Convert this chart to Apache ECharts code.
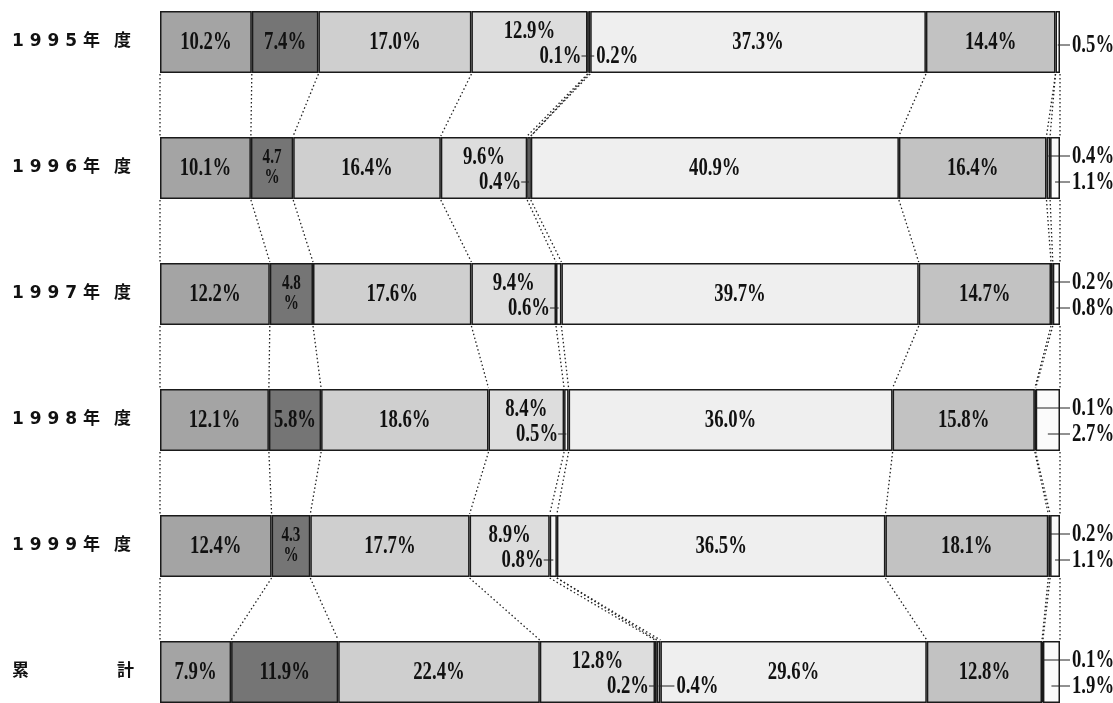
<!DOCTYPE html>
<html>
<head>
<meta charset="utf-8">
<script src="https://cdn.jsdelivr.net/npm/echarts@6/dist/echarts.min.js"></script>
<style>
  html, body { margin: 0; padding: 0; background: #fff; }
  #chart { width: 1113px; height: 703px; }
</style>
</head>
<body>
<div id="chart"></div>
<script>
  // rows, top to bottom
  const years = ['1995年度', '1996年度', '1997年度', '1998年度', '1999年度', '累計'];

  // share of each item (%), left to right inside a bar
  const item1 = [10.2, 10.1, 12.2, 12.1, 12.4, 7.9];
  const item2 = [7.4, 4.7, 4.8, 5.8, 4.3, 11.9];
  const item3 = [17.0, 16.4, 17.6, 18.6, 17.7, 22.4];
  const item4 = [12.9, 9.6, 9.4, 8.4, 8.9, 12.8];
  const item5 = [0.1, 0.4, 0.6, 0.5, 0.8, 0.2];
  const item6 = [0.2, 0, 0, 0, 0, 0.4];
  const item7 = [37.3, 40.9, 39.7, 36.0, 36.5, 29.6];
  const item8 = [14.4, 16.4, 14.7, 15.8, 18.1, 12.8];
  const item9 = [0, 0.4, 0.2, 0.1, 0.2, 0.1];
  const item10 = [0.5, 1.1, 0.8, 2.7, 1.1, 1.9];

  const items = [item1, item2, item3, item4, item5, item6, item7, item8, item9, item10];
  const fills = ['#a4a4a4', '#757575', '#cfcfcf', '#dddddd', '#f4f4f4', '#f4f4f4',
                 '#efefef', '#c2c2c2', '#f4f4f4', '#fbfbfb'];

  const BAR_H = 62;
  const FONT = 'bold 26px "Liberation Serif"';
  const SX = 0.72;

  const chart = echarts.init(document.getElementById('chart'));

  function txt(x, y, s, align, font) {
    return {
      type: 'text', x, y, scaleX: SX,
      style: { text: s, font: font || FONT, fill: '#111', align: align || 'center', verticalAlign: 'middle', lineHeight: 20 }
    };
  }
  function tick(x1, x2, y) {
    return { type: 'line', shape: { x1, y1: y, x2, y2: y }, style: { stroke: '#222', lineWidth: 1 } };
  }

  function cumOf(i) {
    const c = [0];
    items.forEach(arr => c.push(c[c.length - 1] + arr[i]));
    return c;
  }

  function renderRow(params, api) {
    const i = api.value(1);
    const cum = cumOf(i);
    const xs = cum.map(c => api.coord([c, i])[0]);
    const mid = api.coord([0, i])[1];
    const half = BAR_H / 2;
    const kids = [];
    const pct = v => v.toFixed(1) + '%';

    // dotted links to the next bar
    if (i < years.length - 1) {
      const cumN = cumOf(i + 1);
      const xn = cumN.map(c => api.coord([c, i + 1])[0]);
      const midN = api.coord([0, i + 1])[1];
      for (let k = 0; k < xs.length; k++) {
        if (k > 0 && Math.abs(xs[k] - xs[k - 1]) < 0.5 && Math.abs(xn[k] - xn[k - 1]) < 0.5) continue;
        kids.push({
          type: 'line',
          shape: { x1: xs[k], y1: mid + half + 1, x2: xn[k], y2: midN - half - 1 },
          style: { stroke: '#222', lineWidth: 1.3, lineDash: [1.5, 2.5] }
        });
      }
    }

    // labels centred in the wide segments
    [0, 1, 2, 6, 7].forEach(k => {
      const v = items[k][i];
      const cx = (xs[k] + xs[k + 1]) / 2;
      if (v < 5) {
        kids.push(txt(cx, mid, v.toFixed(1) + '\n%', 'center', 'bold 21px "Liberation Serif"'));
      } else {
        kids.push(txt(cx, mid, pct(v)));
      }
    });

    // item4 sits high, item5 low in the same box
    kids.push(txt((xs[3] + xs[4]) / 2, mid - 11, pct(items[3][i])));
    if (items[4][i] > 0) {
      const sx = (xs[4] + xs[5]) / 2;
      kids.push(tick(xs[4] - 6, sx, mid + 14));
      kids.push(txt(xs[4] - 6, mid + 14, pct(items[4][i]), 'right'));
    }
    if (items[5][i] > 0) {
      const sx = (xs[5] + xs[6]) / 2;
      const lx = xs[6] + (i === years.length - 1 ? 14 : 4);
      kids.push(tick(sx, lx, mid + 14));
      kids.push(txt(lx + 2, mid + 14, pct(items[5][i]), 'left'));
    }

    // items 9 and 10 labelled outside on the right
    const right = xs[10];
    const shown = [8, 9].filter(k => items[k][i] > 0);
    shown.forEach(k => {
      const y = shown.length === 1 ? mid + 3 : (k === 8 ? mid - 12 : mid + 14);
      const sx = (xs[k] + xs[k + 1]) / 2;
      kids.push(tick(sx, right + 10, y));
      kids.push(txt(right + 12, y, pct(items[k][i]), 'left'));
    });

    return { type: 'group', children: kids };
  }

  const barSeries = items.map((arr, k) => ({
    name: 'item' + (k + 1),
    type: 'bar',
    stack: 'all',
    barWidth: BAR_H,
    data: arr.map(v => (v === 0 ? '-' : v)),
    itemStyle: { color: fills[k], borderColor: '#1a1a1a', borderWidth: 1.5 },
    silent: true,
    animation: false
  }));

  const option = {
    animation: false,
    backgroundColor: '#fff',
    grid: { left: 160, right: 53, top: -21, bottom: -32, outerBoundsMode: 'none', containLabel: false },
    xAxis: { type: 'value', min: 0, max: 100, show: false },
    yAxis: {
      type: 'category',
      data: years,
      inverse: true,
      axisLine: { show: false },
      axisTick: { show: false },
      axisLabel: {
        margin: 148,
        align: 'left',
        formatter: v => {
          if (v === '累計') return '{k|累}{gap|}{k|計}';
          return '{k|' + v.slice(0, 4).split('').join(' ') + ' ' + v[4] + '}{sp|}{k|' + v.slice(5) + '}';
        },
        rich: {
          k: { fontFamily: '"DejaVu Sans", "Noto Sans CJK JP"', fontWeight: 'bold', fontSize: 17, color: '#111' },
          sp: { width: 14 },
          gap: { width: 88 }
        }
      }
    },
    series: [
      ...barSeries,
      {
        type: 'custom',
        coordinateSystem: 'cartesian2d',
        data: years.map((_, i) => [100, i]),
        encode: { x: 0, y: 1 },
        renderItem: renderRow,
        clip: false,
        silent: true,
        z: 10
      }
    ]
  };

  chart.setOption(option);
</script>
</body>
</html>
